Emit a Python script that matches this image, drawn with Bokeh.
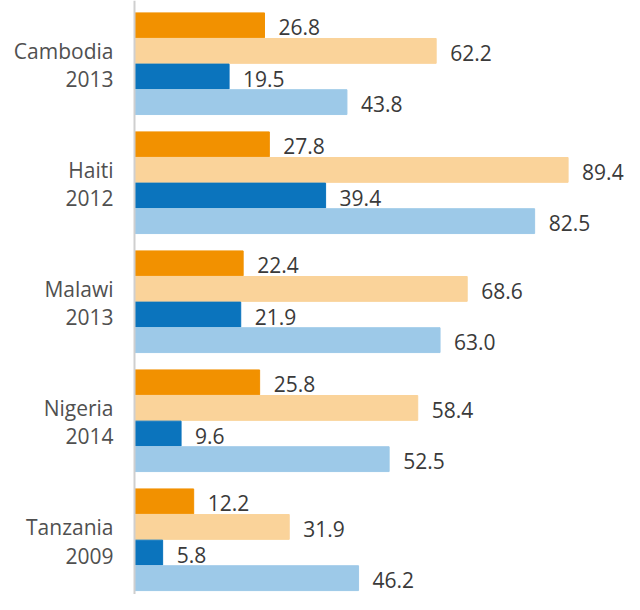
from bokeh.plotting import figure
from bokeh.models import Range1d, Span, ColumnDataSource
from bokeh.core.properties import value
from bokeh.embed import file_html
from bokeh.resources import INLINE

countries = ["Cambodia", "Haiti", "Malawi", "Nigeria", "Tanzania"]
years = ["2013", "2012", "2013", "2014", "2009"]
series_a = [26.8, 27.8, 22.4, 25.8, 12.2]
series_b = [62.2, 89.4, 68.6, 58.4, 31.9]
series_c = [19.5, 39.4, 21.9, 9.6, 5.8]
series_d = [43.8, 82.5, 63.0, 52.5, 46.2]

colors = ["#F29100", "#FAD39A", "#0B74BD", "#9DC9E8"]
PITCH = 4.648  # group spacing in bar units

p = figure(width=624, height=594, output_backend="svg", toolbar_location=None,
           x_range=Range1d(-27.63, 101.03), y_range=Range1d(22.73, -0.469),
           x_axis_location=None, y_axis_location=None,
           min_border=0, min_border_left=0, min_border_right=0,
           min_border_top=0, min_border_bottom=0)
p.outline_line_color = None
p.xgrid.visible = False
p.ygrid.visible = False
p.background_fill_color = "white"

font = value("Open Sans")
for j, (vals, col) in enumerate(zip([series_a, series_b, series_c, series_d], colors)):
    ys = [i * PITCH + j + 0.5 for i in range(len(vals))]
    src = ColumnDataSource(dict(y=ys, right=vals, lab=[f"{v:.1f}" for v in vals]))
    p.hbar(y="y", left=0, right="right", height=0.97, color=col, source=src)
    p.text(x="right", y="y", text="lab", source=src, x_offset=14, y_offset=2,
           text_baseline="middle", text_align="left", text_font=font,
           text_font_size="21px", text_color="#3a3a3a")

centers = [i * PITCH + 2.0 for i in range(len(countries))]
p.text(x=[0] * len(countries), y=[c - 0.51 for c in centers], text=countries,
       x_offset=-21, text_align="right", text_baseline="middle", text_font=font,
       text_font_size="21px", text_color="#505050")
p.text(x=[0] * len(years), y=[c + 0.615 for c in centers], text=years,
       x_offset=-21, text_align="right", text_baseline="middle", text_font=font,
       text_font_size="21px", text_color="#505050")

p.add_layout(Span(location=0, dimension="height", line_color="#cfcfcf", line_width=2))

open("out.html", "w").write(file_html(p, INLINE))
